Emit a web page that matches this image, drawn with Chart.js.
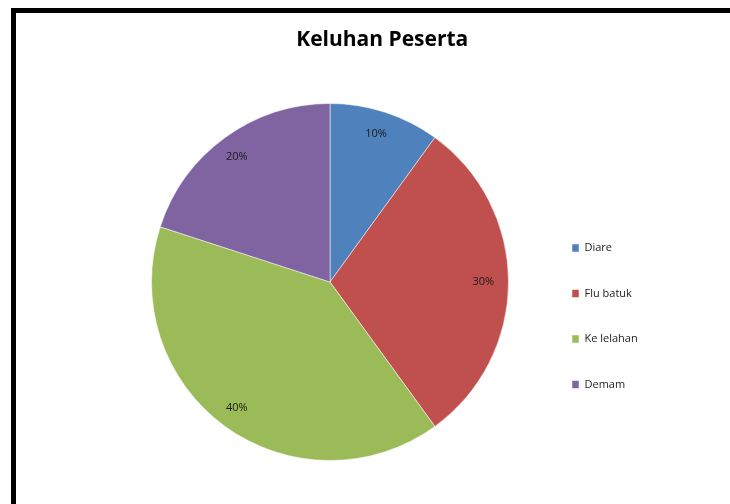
<!DOCTYPE html>
<html>
<head>
<meta charset="utf-8">
<title>Keluhan Peserta</title>
<script src="https://cdn.jsdelivr.net/npm/chart.js@4.4.0/dist/chart.umd.min.js"></script>
<style>
  html, body { margin: 0; padding: 0; background: #fff; overflow: hidden; }
  #wrap { position: relative; width: 730px; height: 504px; overflow: hidden; }
  #frame {
    position: absolute; left: 11px; top: 8px;
    width: 2000px; height: 2000px;
    border: 5px solid #000;
  }
  #keluhanChart { position: absolute; left: 0; top: 0; }
</style>
</head>
<body>
<div id="wrap">
  <div id="frame"></div>
  <canvas id="keluhanChart" width="730" height="504"></canvas>
</div>
<script>
// data
const categories = ['Diare', 'Flu batuk', 'Ke lelahan', 'Demam'];
const percentages = [10, 30, 40, 20];
const sliceColors = ['#4f81bd', '#c0504d', '#9bbb59', '#8064a2'];

// percent labels inside each slice
const sliceLabels = {
  id: 'sliceLabels',
  afterDatasetsDraw(chart) {
    const ctx = chart.ctx;
    const meta = chart.getDatasetMeta(0);
    ctx.save();
    ctx.font = '11px "Open Sans", sans-serif';
    ctx.fillStyle = '#1a1a1a';
    ctx.textAlign = 'center';
    ctx.textBaseline = 'middle';
    meta.data.forEach((arc, i) => {
      const p = arc.getProps(['x', 'y', 'startAngle', 'endAngle', 'outerRadius'], true);
      const mid = (p.startAngle + p.endAngle) / 2;
      const r = p.outerRadius * 0.87;
      ctx.fillText(chart.data.datasets[0].data[i] + '%', p.x + Math.cos(mid) * r - 2, p.y + Math.sin(mid) * r);
    });
    ctx.restore();
  }
};

const ctx = document.getElementById('keluhanChart').getContext('2d');
const keluhanChart = new Chart(ctx, {
  type: 'pie',
  data: {
    labels: categories,
    datasets: [{
      data: percentages,
      backgroundColor: sliceColors,
      borderColor: 'rgba(255,255,255,0.5)',
      borderWidth: 1
    }]
  },
  options: {
    responsive: false,
    animation: false,
    layout: {
      padding: { left: 122.5, right: 88, top: 0, bottom: 43 }
    },
    plugins: {
      title: {
        display: true,
        text: 'Keluhan Peserta',
        color: '#000',
        font: { family: 'Open Sans', size: 21, weight: 'bold', lineHeight: 1.2 },
        padding: { top: 27, bottom: 50.8 }
      },
      legend: {
        position: 'right',
        align: 'start',
        fullSize: false,
        maxWidth: 104.5,
        title: {
          display: true,
          text: '',
          font: { size: 12 },
          padding: { top: 90.6, bottom: 0 }
        },
        labels: {
          boxWidth: 7,
          boxHeight: 8,
          padding: 34.5,
          color: '#222',
          font: { family: 'Open Sans', size: 11 }
        }
      },
      tooltip: { enabled: false }
    }
  },
  plugins: [sliceLabels]
});
</script>
</body>
</html>
